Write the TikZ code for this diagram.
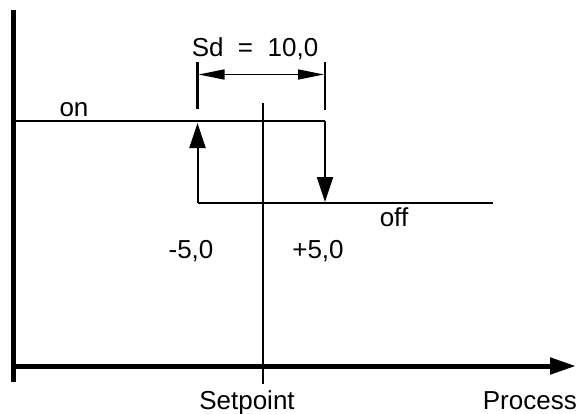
\documentclass[tikz,border=0pt]{standalone}
\usepackage{fontspec}
\setmainfont{Liberation Sans}
\usetikzlibrary{arrows.meta}
\begin{document}
\begin{tikzpicture}[x=1pt,y=-1pt,
  lbl/.style={inner sep=0pt,anchor=base,font=\fontsize{26}{30}\selectfont},
  thin line/.style={line width=2pt},
  big tip/.style={-{Triangle[length=25pt,width=16pt]}},
  dim tip/.style={{Triangle[length=26pt,width=10pt]}-{Triangle[length=26pt,width=10pt]}}]
\useasboundingbox (0,0) rectangle (577,414);
% axes
\coordinate (ytop) at (13.5,10);
\coordinate (ybot) at (13.5,382);
\coordinate (xl) at (13.5,366);
\coordinate (xr) at (576,366);
\draw[line width=5pt] (ytop) -- (ybot);
\draw[line width=5pt,-{Triangle[length=26pt,width=16pt]}] (xl) -- (xr);
% setpoint line
\coordinate (sptop) at (263,103);
\coordinate (spbot) at (263,384);
\draw[thin line] (sptop) -- (spbot);
% on / off lines
\coordinate (on0) at (13.5,121);
\coordinate (on1) at (325,121);
\coordinate (off0) at (197.5,203);
\coordinate (off1) at (493,203);
\coordinate (uptip) at (197.5,123);
\coordinate (downtip) at (325,202);
\draw[thin line] (on0) -- (on1);
\draw[thin line] (off0) -- (off1);
\draw[thin line,big tip] (on1) -- (downtip);
\draw[thin line,big tip] (off0) -- (uptip);
% dimension
\coordinate (tl0) at (197.5,62);
\coordinate (tl1) at (197.5,109);
\coordinate (tr0) at (325,62);
\coordinate (tr1) at (325,110);
\draw[line width=2.5pt] (tl0) -- (tl1);
\draw[line width=2.5pt] (tr0) -- (tr1);
\coordinate (dl) at (198.5,74.5);
\coordinate (dr) at (324,74.5);
\draw[line width=1.5pt,dim tip] (dl) -- (dr);
% labels
\node[lbl] (sd) at (255,56.5) {Sd\ \ =\ \ 10,0};
\node[lbl] (on) at (74,117) {on};
\node[lbl] (off) at (394,226.5) {off};
\node[lbl] (m5) at (191,258) {-5,0};
\node[lbl] (p5) at (318,258) {+5,0};
\node[lbl] (sp) at (247,409) {Setpoint};
\node[lbl,anchor=base east] (proc) at (577,409) {Process};
\end{tikzpicture}
\end{document}
